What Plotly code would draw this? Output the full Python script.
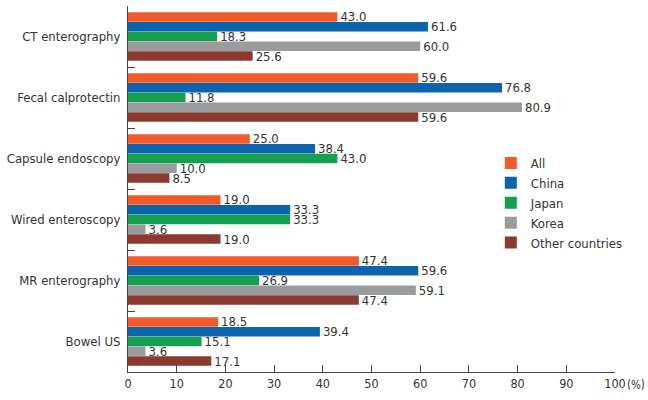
import plotly.graph_objects as go

categories = ["CT enterography", "Fecal calprotectin", "Capsule endoscopy",
              "Wired enteroscopy", "MR enterography", "Bowel US"]
series_names = ["All", "China", "Japan", "Korea", "Other countries"]
colors = ["#F15A29", "#0B64AC", "#13A14F", "#9A9B9D", "#8A3A2E"]

all_vals = [43.0, 59.6, 25.0, 19.0, 47.4, 18.5]
china_vals = [61.6, 76.8, 38.4, 33.3, 59.6, 39.4]
japan_vals = [18.3, 11.8, 43.0, 33.3, 26.9, 15.1]
korea_vals = [60.0, 80.9, 10.0, 3.6, 59.1, 3.6]
other_vals = [25.6, 59.6, 8.5, 19.0, 47.4, 17.1]

series_values = [all_vals, china_vals, japan_vals, korea_vals, other_vals]
x_ticks = list(range(0, 101, 10))

font_family = "DejaVu Sans Condensed, Liberation Sans Narrow, Roboto, sans-serif"
text_color = "#333333"

fig = go.Figure()
for name, vals, color in zip(series_names, series_values, colors):
    fig.add_trace(go.Bar(
        y=categories,
        x=vals,
        name=name,
        orientation="h",
        marker=dict(color=color, line=dict(width=0)),
        text=[f"{v:.1f}" for v in vals],
        textposition="outside",
        constraintext="none",
        textfont=dict(size=13, color=text_color, family=font_family),
        cliponaxis=False,
    ))

fig.update_layout(
    barmode="group",
    bargap=0.2,
    bargroupgap=0.04,
    width=648,
    height=400,
    margin=dict(l=128, r=33, t=6, b=28),
    plot_bgcolor="white",
    paper_bgcolor="white",
    font=dict(family=font_family, size=13, color=text_color),
    legend=dict(
        x=0.745, y=0.612, xanchor="left", yanchor="top",
        font=dict(size=13, family=font_family, color=text_color),
        bgcolor="rgba(0,0,0,0)",
        traceorder="normal",
        itemwidth=30,
        tracegroupgap=0,
    ),
)

fig.update_xaxes(
    range=[0, 100],
    tickvals=x_ticks,
    ticks="inside",
    ticklen=7,
    tickcolor="#444444",
    showline=True,
    linecolor="#444444",
    linewidth=1,
    showgrid=False,
    zeroline=False,
    automargin=False,
    tickfont=dict(size=12.5),
)

fig.update_yaxes(
    autorange="reversed",
    ticks="inside",
    tickson="boundaries",
    ticklen=7,
    tickcolor="#444444",
    showline=True,
    linecolor="#444444",
    linewidth=1,
    showgrid=False,
    automargin=False,
    ticklabelstandoff=4,
    tickfont=dict(size=13),
)

# unit label after the last x tick, kept inside the right edge of the page
fig.add_annotation(
    x=1, y=0, xref="paper", yref="paper",
    text="(%)", showarrow=False,
    xanchor="right", yanchor="top",
    xshift=32, yshift=-4,
    font=dict(size=11.5, family=font_family, color=text_color),
)

# the page body has a default 8px margin; drop it so the figure sits at the window corner
fig.write_html(
    "out.html",
    config={"displayModeBar": False},
    post_script="document.body.style.margin = '0';",
)
